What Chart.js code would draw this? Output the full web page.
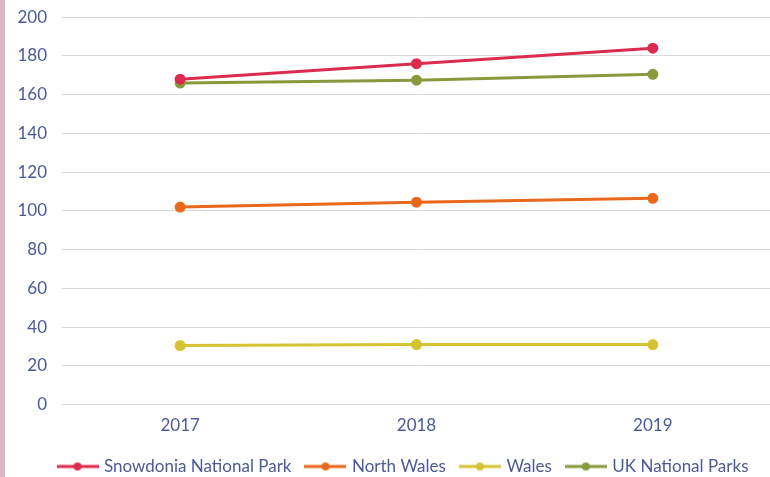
<!DOCTYPE html>
<html>
<head>
<meta charset="utf-8">
<script src="https://cdn.jsdelivr.net/npm/chart.js@4"></script>
<style>
  html, body { margin: 0; padding: 0; background: #fff; overflow: hidden; }
  #wrap { position: relative; width: 770px; height: 477px; overflow: hidden; }
  #stripe { position: absolute; left: 0; top: 0; width: 5px; height: 477px; background: #d9b8c8; z-index: 2; }
  #chart { position: absolute; left: 0; top: -8px; }
</style>
</head>
<body>
<div id="wrap">
  <div id="stripe"></div>
  <canvas id="chart" width="778" height="490"></canvas>
</div>
<script>
// Chart data
const years = ['2017', '2018', '2019'];
const snowdonia = [168, 176, 184];
const northWales = [102, 104.5, 106.5];
const wales = [30.5, 31, 31];
const ukParks = [166, 167.5, 170.5];

const textColor = '#4b5a98';
const fontFamily = 'Lato, "Open Sans", sans-serif';
const fontSize = 17;

// Legend marker: short line with a dot in the middle
function makeMarker(color) {
    const c = document.createElement('canvas');
    c.width = 42;
    c.height = 10;
    const ctx = c.getContext('2d');
    ctx.strokeStyle = color;
    ctx.lineWidth = 3;
    ctx.beginPath();
    ctx.moveTo(0, 5);
    ctx.lineTo(42, 5);
    ctx.stroke();
    ctx.fillStyle = color;
    ctx.beginPath();
    ctx.arc(21, 5, 4, 0, Math.PI * 2);
    ctx.fill();
    return c;
}

function makeDataset(label, data, color) {
    return {
        label: label,
        data: data,
        borderColor: color,
        backgroundColor: color,
        borderWidth: 3,
        pointRadius: 4,
        pointHoverRadius: 4,
        pointStyle: 'circle',
        legendMarker: makeMarker(color),
        fill: false,
        tension: 0
    };
}

// nudge the legend so it sits where the original one does
const legendShift = {
    id: 'legendShift',
    afterLayout(chart) {
        chart.legend.left += 30;
        chart.legend.top += 3;
        chart.legend.bottom += 3;
    }
};

const chart = new Chart(document.getElementById('chart').getContext('2d'), {
    type: 'line',
    data: {
        labels: years,
        datasets: [
            makeDataset('Snowdonia National Park', snowdonia, '#db2b4e'),
            makeDataset('North Wales', northWales, '#e8681c'),
            makeDataset('Wales', wales, '#d6c331'),
            makeDataset('UK National Parks', ukParks, '#889a3e')
        ]
    },
    plugins: [legendShift],
    options: {
        responsive: false,
        animation: false,
        layout: { padding: { top: 6, left: 0, right: 0, bottom: 0 } },
        plugins: {
            tooltip: { enabled: false },
            legend: {
                position: 'bottom',
                labels: {
                    color: textColor,
                    font: { family: fontFamily, size: fontSize },
                    usePointStyle: true,
                    pointStyleWidth: 36,
                    padding: 16,
                    generateLabels: (chart) => chart.data.datasets.map((ds, i) => ({
                        text: ds.label,
                        fontColor: textColor,
                        pointStyle: ds.legendMarker,
                        strokeStyle: ds.borderColor,
                        fillStyle: ds.borderColor,
                        lineWidth: 0,
                        hidden: false,
                        datasetIndex: i
                    }))
                }
            }
        },
        scales: {
            x: {
                offset: true,
                grid: { display: false },
                border: { display: false },
                ticks: {
                    color: textColor,
                    font: { family: fontFamily, size: fontSize },
                    padding: 3
                }
            },
            y: {
                min: 0,
                max: 200,
                afterFit: (scale) => { scale.width = 62; },
                grid: { color: '#d9d9d9', lineWidth: 1, drawTicks: false },
                border: { display: false },
                ticks: {
                    stepSize: 20,
                    color: textColor,
                    font: { family: fontFamily, size: fontSize },
                    padding: 15
                }
            }
        }
    }
});
</script>
</body>
</html>
